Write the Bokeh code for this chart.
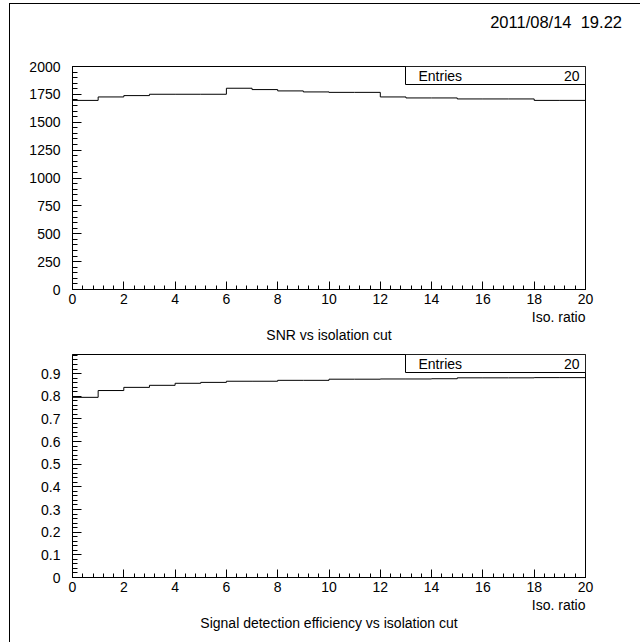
from bokeh.plotting import figure
from bokeh.models import SingleIntervalTicker, Label, BoxAnnotation, Range1d, CustomJSTickFormatter, Title, Div
from bokeh.layouts import column
from bokeh.embed import file_html
from bokeh.resources import INLINE

# ---------------- data ----------------
bin_edges = list(range(0, 21))
snr = [1696, 1727, 1739, 1751, 1751, 1751, 1805, 1793, 1781, 1772,
       1768, 1768, 1727, 1718, 1718, 1709, 1709, 1709, 1696, 1696]
eff = [0.795, 0.825, 0.839, 0.848, 0.857, 0.861, 0.866, 0.866, 0.870, 0.870,
       0.875, 0.875, 0.876, 0.876, 0.877, 0.881, 0.881, 0.881, 0.882, 0.882]
entries = 20
x_label = "Iso. ratio"
titles = ["SNR vs isolation cut", "Signal detection efficiency vs isolation cut"]
date_text = "2011/08/14&nbsp;&nbsp;19.22"

FONT = "Liberation Sans"
FS = "14px"

# geometry (page pixels)
FL, FR = 72, 585
Y1TOP, Y1BOT = 66, 289
Y2TOP, Y2BOT = 354, 577
Y1MAX = 2000
Y2MAX = 0.984

HEAD = 44          # height of the date strip
P1H, P2H = 300, 294


def px_x(px):
    return (px - FL) * 20.0 / (FR - FL)


def py_y1(py):
    return (Y1BOT - py) * Y1MAX / (Y1BOT - Y1TOP)


def py_y2(py):
    return (Y2BOT - py) * Y2MAX / (Y2BOT - Y2TOP)


def make_fig(height, top, bottom, ymax, yinterval, fmt=None):
    p = figure(width=630, height=height, output_backend="svg", toolbar_location=None,
               x_range=Range1d(0, 20), y_range=Range1d(0, ymax),
               min_border_left=FL - 10, min_border_right=640 - FR,
               min_border_top=top, min_border_bottom=bottom)
    p.grid.visible = False
    p.outline_line_color = "black"
    p.outline_line_alpha = 1
    p.outline_line_width = 1
    p.background_fill_color = "white"
    p.border_fill_color = "white"
    p.xaxis.ticker = SingleIntervalTicker(interval=2, num_minor_ticks=5)
    p.yaxis.ticker = SingleIntervalTicker(interval=yinterval, num_minor_ticks=5)
    if fmt is not None:
        p.yaxis.formatter = fmt
    for ax in (p.xaxis, p.yaxis):
        ax.axis_line_color = "black"
        ax.major_tick_line_color = "black"
        ax.minor_tick_line_color = "black"
        ax.major_tick_out = 0
        ax.minor_tick_out = 0
        ax.major_label_text_font = FONT
        ax.major_label_text_font_size = FS
        ax.major_label_text_color = "black"
    p.xaxis.major_tick_in = 8
    p.xaxis.minor_tick_in = 4
    p.yaxis.major_tick_in = 9
    p.yaxis.minor_tick_in = 5
    p.xaxis.major_label_standoff = 4
    p.yaxis.major_label_standoff = 12
    return p


def add_text(p, x, y, text, align="left"):
    p.add_layout(Label(x=x, y=y, text=text, text_font=FONT, text_font_size=FS,
                       text_color="black", text_align=align, text_baseline="middle"))


def add_titles_below(p, title):
    p.add_layout(Title(text=x_label, align="right", text_font=FONT, text_font_size=FS,
                       text_font_style="normal", text_color="black", standoff=0, offset=0), "below")
    p.add_layout(Title(text=title, align="center", text_font=FONT, text_font_size=FS,
                       text_font_style="normal", text_color="black", standoff=0, offset=0), "below")


# ---------------- date strip ----------------
head = Div(text=('<div style="display:block;width:612px;text-align:right;'
                 'font-family:\'Liberation Sans\';'
                 'font-size:16.5px;line-height:20px;padding-top:8px;color:black;">'
                 + date_text + '</div>'),
           width=612, height=HEAD, margin=0)

# ---------------- top panel ----------------
p1_top = 4 + HEAD
p1 = make_fig(P1H, Y1TOP - p1_top, p1_top + P1H - Y1BOT, Y1MAX, 250)
p1.step(x=bin_edges, y=snr + [snr[-1]], mode="after", line_color="black", line_width=1)
p1.add_layout(BoxAnnotation(left=px_x(405), right=20, top=Y1MAX, bottom=py_y1(84),
                            fill_color="white", fill_alpha=1, line_color="black",
                            line_alpha=1, line_width=1))
add_text(p1, px_x(418), py_y1(75), "Entries")
add_text(p1, px_x(579), py_y1(75), str(entries), align="right")
add_titles_below(p1, titles[0])

# ---------------- bottom panel ----------------
p2_top = p1_top + P1H
fmt = CustomJSTickFormatter(code="return (Math.round(tick*10)/10).toString();")
p2 = make_fig(P2H, Y2TOP - p2_top, p2_top + P2H - Y2BOT, Y2MAX, 0.1, fmt)
p2.step(x=bin_edges, y=eff + [eff[-1]], mode="after", line_color="black", line_width=1)
p2.add_layout(BoxAnnotation(left=px_x(405), right=20, top=Y2MAX, bottom=py_y2(372),
                            fill_color="white", fill_alpha=1, line_color="black",
                            line_alpha=1, line_width=1))
add_text(p2, px_x(418), py_y2(363), "Entries")
add_text(p2, px_x(579), py_y2(363), str(entries), align="right")
add_titles_below(p2, titles[1])

layout = column(head, p1, p2, margin=(3, 0, 0, 9),
                styles={"border-left": "1px solid black", "border-top": "1px solid black"})

open("out.html", "w").write(file_html(layout, INLINE))
